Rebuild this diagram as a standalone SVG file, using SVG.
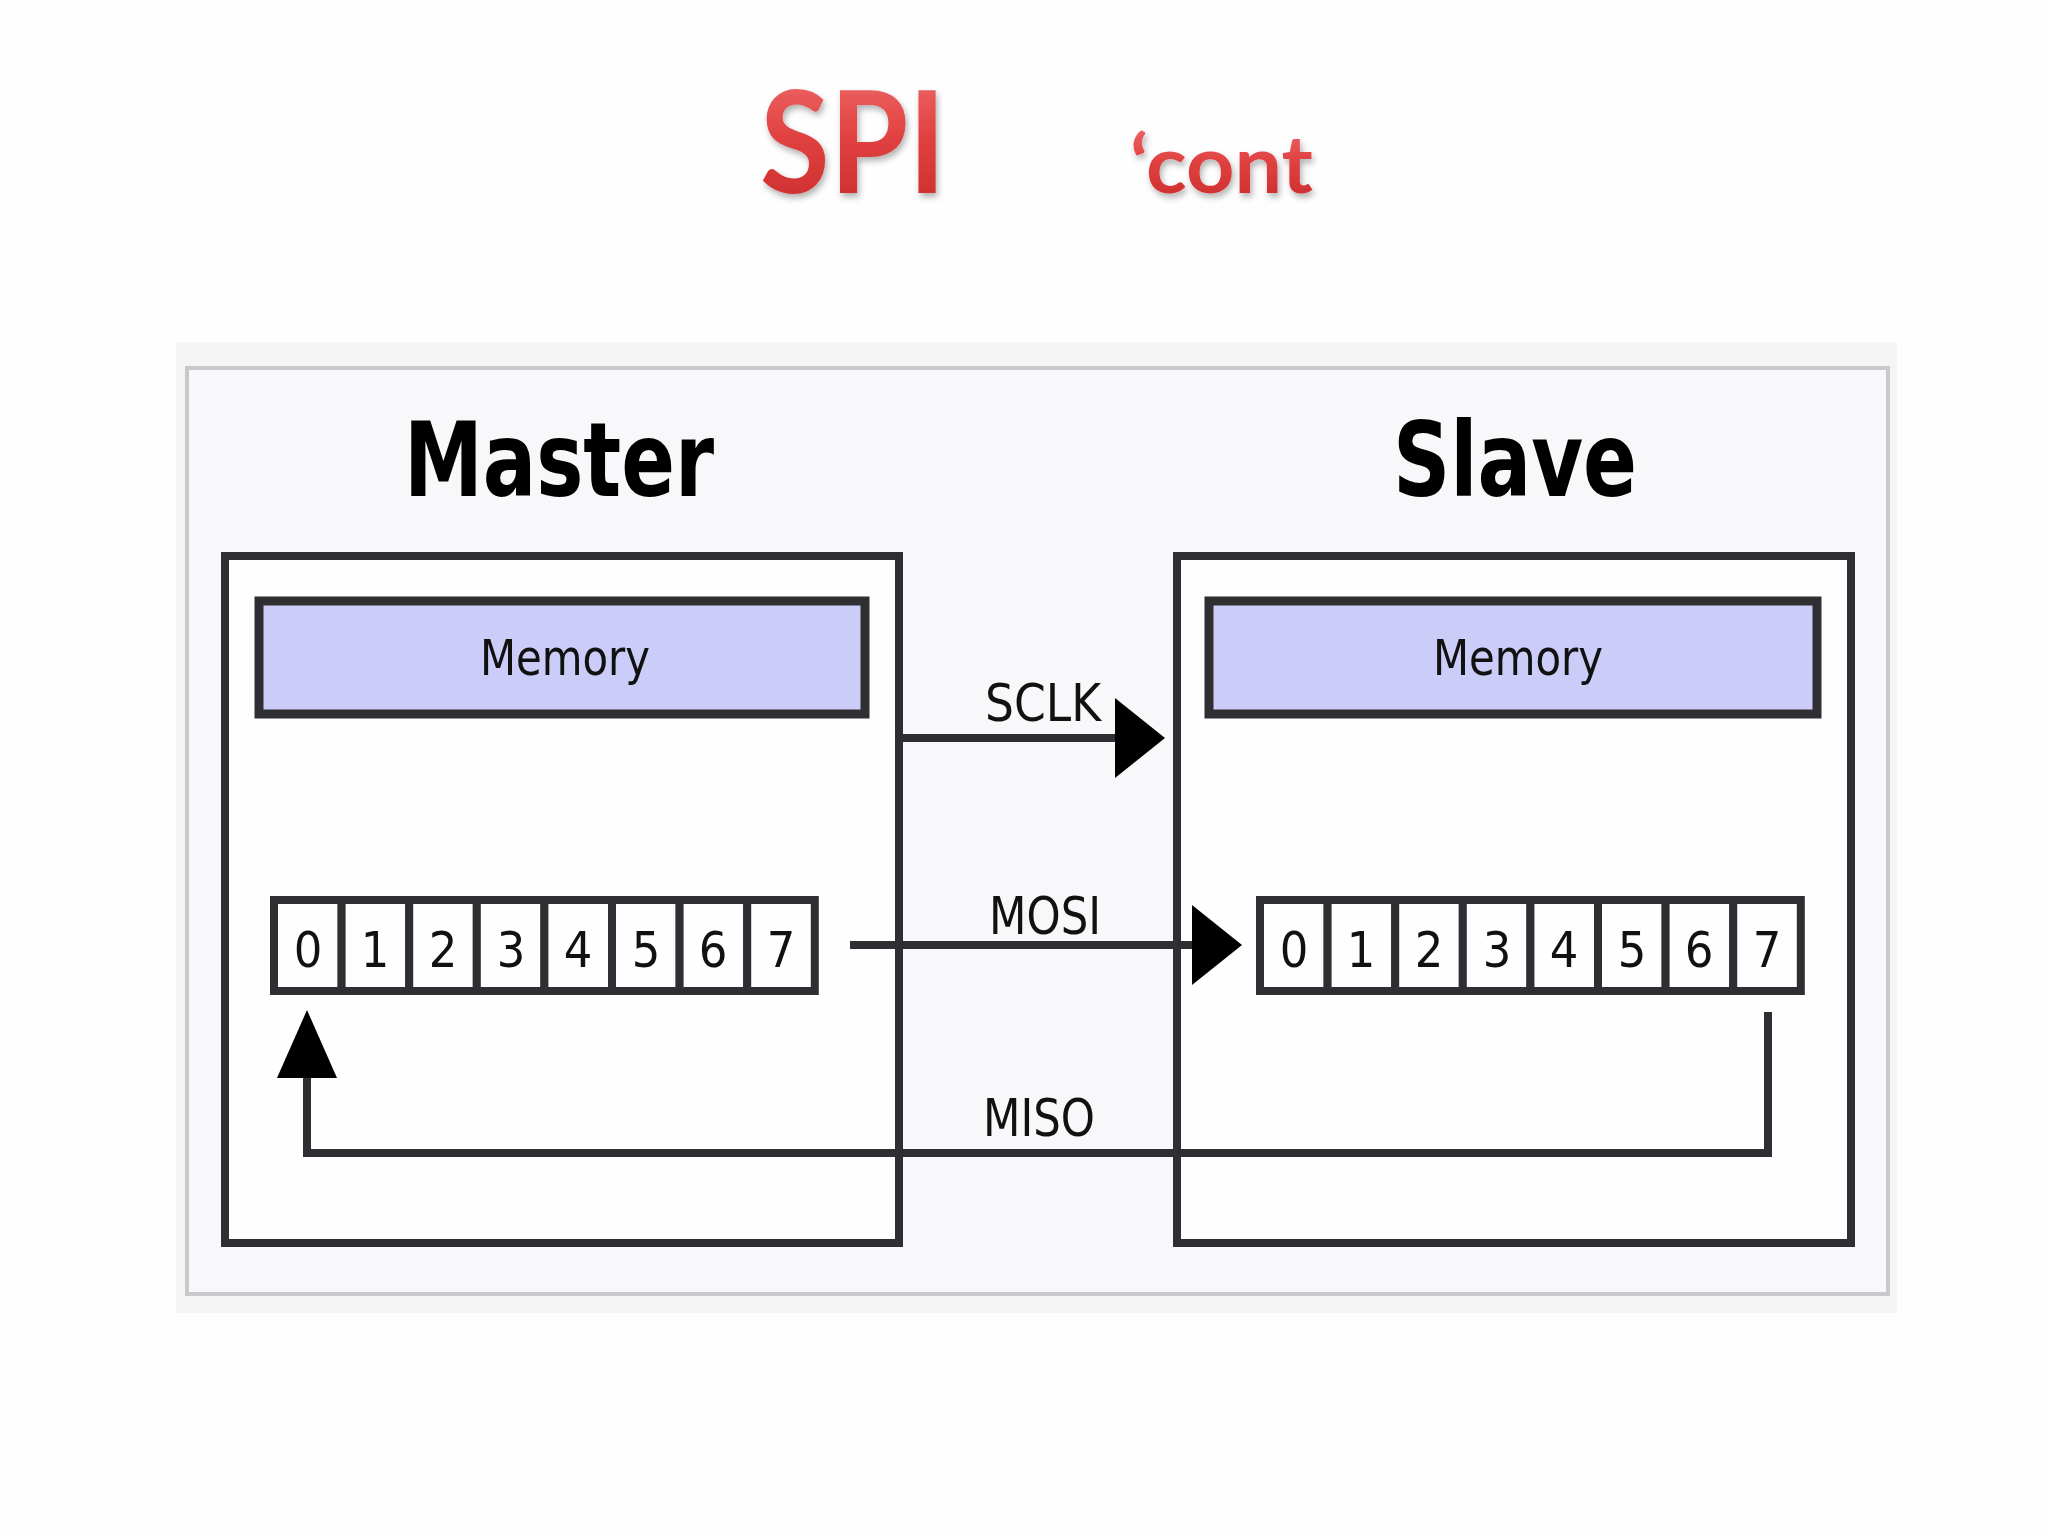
<svg xmlns="http://www.w3.org/2000/svg" width="2048" height="1536" viewBox="0 0 2048 1536">
  <style>
    .title { font-family: Lato, "Open Sans", "Liberation Sans", sans-serif; font-weight: 700; fill: url(#redgrad); filter: url(#shadow); }
    .head { font-family: "DejaVu Sans Condensed", "DejaVu Sans", sans-serif; font-weight: 700; font-size: 104px; fill: #000; text-anchor: middle; }
    .box { fill: #fefefe; stroke: #2f2f33; stroke-width: 8; }
    .mem { fill: #ccccf8; stroke: #2f2f33; stroke-width: 9; }
    .memtxt { font-family: "DejaVu Sans Condensed", "DejaVu Sans", sans-serif; font-size: 50px; fill: #111; text-anchor: middle; }
    .cell { fill: #fefefe; stroke: #2f2f33; stroke-width: 8; }
    .digit { font-family: "DejaVu Sans Condensed", "DejaVu Sans", sans-serif; font-size: 50px; fill: #111; text-anchor: middle; }
    .wire { fill: none; stroke: #2f2f33; stroke-width: 8; }
    .lbl { font-family: "DejaVu Sans Condensed", "DejaVu Sans", sans-serif; font-size: 52px; fill: #111; }
  </style>
  <defs>
    <linearGradient id="redgrad" x1="0" y1="0" x2="0" y2="1">
      <stop offset="0" stop-color="#f27272"/>
      <stop offset="0.5" stop-color="#e04040"/>
      <stop offset="1" stop-color="#c92a2a"/>
    </linearGradient>
    <filter id="shadow" x="-10%" y="-10%" width="120%" height="130%">
      <feDropShadow dx="2" dy="4" stdDeviation="3" flood-color="#000" flood-opacity="0.3"/>
    </filter>
    <marker id="arrH" viewBox="0 0 50 80" refX="0" refY="40" markerWidth="50" markerHeight="80" markerUnits="userSpaceOnUse" orient="auto">
      <path d="M0,0 L50,40 L0,80 Z" fill="#000"/>
    </marker>
    <marker id="arrV" viewBox="0 0 68 60" refX="0" refY="30" markerWidth="68" markerHeight="60" markerUnits="userSpaceOnUse" orient="auto">
      <path d="M0,0 L68,30 L0,60 Z" fill="#000"/>
    </marker>
  </defs>

  <rect x="0" y="0" width="2048" height="1536" fill="#fefefe"/>

  <!-- Title -->
  <g id="title">
    <text class="title" x="760" y="193" font-size="142" textLength="186" lengthAdjust="spacingAndGlyphs">SPI</text>
    <text class="title" x="1130" y="193" font-size="80" textLength="183" lengthAdjust="spacingAndGlyphs">‘cont</text>
  </g>

  <!-- Panel -->
  <g id="panel">
    <rect x="176" y="342" width="1721" height="971" fill="#f5f5f6"/>
    <rect x="187" y="368" width="1701" height="926" fill="#f8f8fa" stroke="#c9c9cb" stroke-width="4"/>
  </g>

  <!-- Master -->
  <g id="master">
    <text class="head" x="559" y="496" textLength="310" lengthAdjust="spacingAndGlyphs">Master</text>
    <rect class="box" x="225" y="556" width="674" height="687"/>
    <g id="master-memory">
      <rect class="mem" x="259" y="601" width="606" height="113"/>
      <text class="memtxt" x="565" y="675" textLength="170" lengthAdjust="spacingAndGlyphs">Memory</text>
    </g>
    <g id="master-register">
      <rect class="cell" x="274" y="900" width="67.6" height="91"/>
      <rect class="cell" x="341.6" y="900" width="67.6" height="91"/>
      <rect class="cell" x="409.2" y="900" width="67.6" height="91"/>
      <rect class="cell" x="476.8" y="900" width="67.6" height="91"/>
      <rect class="cell" x="544.4" y="900" width="67.6" height="91"/>
      <rect class="cell" x="612" y="900" width="67.6" height="91"/>
      <rect class="cell" x="679.6" y="900" width="67.6" height="91"/>
      <rect class="cell" x="747.2" y="900" width="67.6" height="91"/>
      <text class="digit" x="308" y="967">0</text>
      <text class="digit" x="375" y="967">1</text>
      <text class="digit" x="443" y="967">2</text>
      <text class="digit" x="511" y="967">3</text>
      <text class="digit" x="578" y="967">4</text>
      <text class="digit" x="646" y="967">5</text>
      <text class="digit" x="713" y="967">6</text>
      <text class="digit" x="781" y="967">7</text>
    </g>
  </g>

  <!-- Slave -->
  <g id="slave">
    <text class="head" x="1515" y="496" textLength="244" lengthAdjust="spacingAndGlyphs">Slave</text>
    <rect class="box" x="1177" y="556" width="674" height="687"/>
    <g id="slave-memory">
      <rect class="mem" x="1209" y="601" width="608" height="113"/>
      <text class="memtxt" x="1518" y="675" textLength="170" lengthAdjust="spacingAndGlyphs">Memory</text>
    </g>
    <g id="slave-register">
      <rect class="cell" x="1260" y="900" width="67.6" height="91"/>
      <rect class="cell" x="1327.6" y="900" width="67.6" height="91"/>
      <rect class="cell" x="1395.2" y="900" width="67.6" height="91"/>
      <rect class="cell" x="1462.8" y="900" width="67.6" height="91"/>
      <rect class="cell" x="1530.4" y="900" width="67.6" height="91"/>
      <rect class="cell" x="1598" y="900" width="67.6" height="91"/>
      <rect class="cell" x="1665.6" y="900" width="67.6" height="91"/>
      <rect class="cell" x="1733.2" y="900" width="67.6" height="91"/>
      <text class="digit" x="1294" y="967">0</text>
      <text class="digit" x="1361" y="967">1</text>
      <text class="digit" x="1429" y="967">2</text>
      <text class="digit" x="1497" y="967">3</text>
      <text class="digit" x="1564" y="967">4</text>
      <text class="digit" x="1632" y="967">5</text>
      <text class="digit" x="1699" y="967">6</text>
      <text class="digit" x="1767" y="967">7</text>
    </g>
  </g>

  <!-- Connectors -->
  <g id="connectors">
    <path class="wire" d="M902,738 H1115" marker-end="url(#arrH)"/>
    <path class="wire" d="M850,945 H1192" marker-end="url(#arrH)"/>
    <path class="wire" d="M1768,1012 V1153 H307 V1078" marker-end="url(#arrV)"/>
    <text class="lbl" x="985" y="721" textLength="116" lengthAdjust="spacingAndGlyphs">SCLK</text>
    <text class="lbl" x="989" y="934" textLength="112" lengthAdjust="spacingAndGlyphs">MOSI</text>
    <text class="lbl" x="983" y="1136" textLength="112" lengthAdjust="spacingAndGlyphs">MISO</text>
  </g>
</svg>
